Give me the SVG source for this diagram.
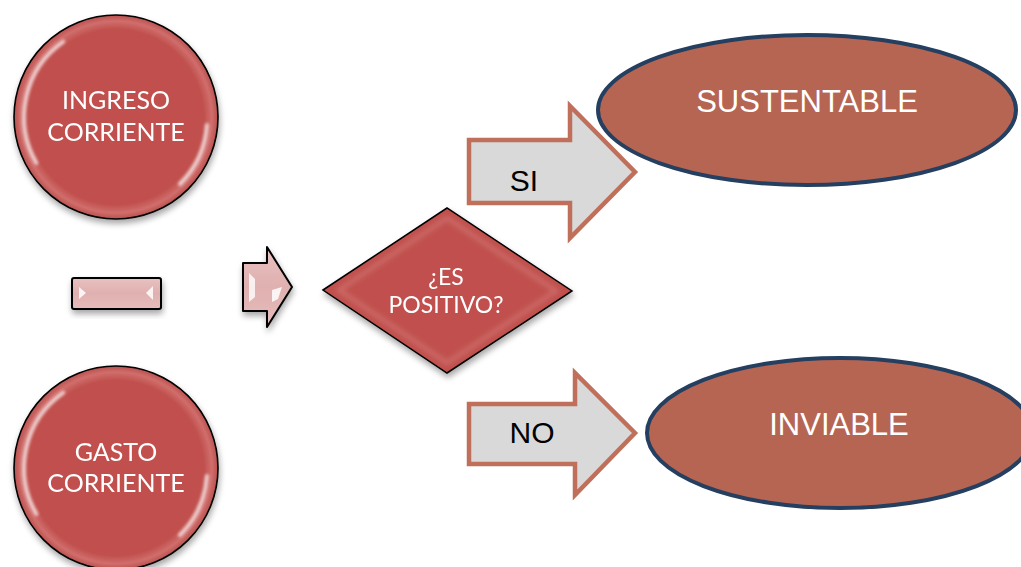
<svg xmlns="http://www.w3.org/2000/svg" width="1021" height="567" viewBox="0 0 1021 567">
  <style>
    .lbl { font-family: "Lato", "Open Sans", sans-serif; fill: #ffffff; text-anchor: middle; }
    .big { font-family: "Liberation Sans", Arial, sans-serif; text-anchor: middle; }
    .edge { fill: #d9d9d9; stroke: #c0705a; stroke-width: 4.5; stroke-linejoin: miter; }
    .end { fill: #b66553; stroke: #243f60; stroke-width: 4; }
    .gloss { fill: none; stroke: #ffffff; stroke-width: 4; stroke-linecap: round; opacity: 0.7; filter: url(#soft); }
  </style>
  <defs>
    <filter id="shadow" x="-20%" y="-20%" width="140%" height="150%">
      <feGaussianBlur in="SourceAlpha" stdDeviation="3"/>
      <feOffset dx="1" dy="4" result="b"/>
      <feComponentTransfer><feFuncA type="linear" slope="0.35"/></feComponentTransfer>
      <feMerge><feMergeNode/><feMergeNode in="SourceGraphic"/></feMerge>
    </filter>
    <filter id="soft" x="-20%" y="-20%" width="140%" height="140%">
      <feGaussianBlur stdDeviation="1.5"/>
    </filter>
    <filter id="softer" x="-20%" y="-20%" width="140%" height="140%">
      <feGaussianBlur stdDeviation="2.5"/>
    </filter>
    <radialGradient id="ball" cx="50%" cy="50%" r="50%">
      <stop offset="0" stop-color="#c0504d"/>
      <stop offset="0.86" stop-color="#c0504d"/>
      <stop offset="0.94" stop-color="#d06e6c"/>
      <stop offset="1" stop-color="#b9504e"/>
    </radialGradient>
    <linearGradient id="pink" x1="0" y1="0" x2="0" y2="1">
      <stop offset="0" stop-color="#e9c2c1"/>
      <stop offset="0.5" stop-color="#dfb0af"/>
      <stop offset="1" stop-color="#e6bdbc"/>
    </linearGradient>
  </defs>

  <!-- result ellipses -->
  <g id="sustentable">
    <ellipse class="end" cx="807" cy="110" rx="209" ry="75"/>
    <text class="big" x="807" y="112" font-size="31" fill="#ffffff">SUSTENTABLE</text>
  </g>
  <g id="inviable">
    <ellipse class="end" cx="840" cy="433" rx="193" ry="75"/>
    <text class="big" x="839" y="435" font-size="31" fill="#ffffff">INVIABLE</text>
  </g>

  <!-- input circles -->
  <g id="ingreso" filter="url(#shadow)">
    <circle cx="116" cy="117" r="102" fill="url(#ball)" stroke="#000000" stroke-width="1.6"/>
    <path class="gloss" d="M 36.3 163 A 92 92 0 0 1 63.2 41.6"/>
    <path class="gloss" d="M 207 125 A 92 92 0 0 1 180 184"/>
    <text class="lbl" x="116" y="109" font-size="25">INGRESO</text>
    <text class="lbl" x="116" y="141" font-size="25">CORRIENTE</text>
  </g>
  <g id="gasto" filter="url(#shadow)">
    <circle cx="116" cy="468" r="102" fill="url(#ball)" stroke="#000000" stroke-width="1.6"/>
    <path class="gloss" d="M 36.3 514 A 92 92 0 0 1 63.2 392.6"/>
    <path class="gloss" d="M 207 476 A 92 92 0 0 1 180 535"/>
    <text class="lbl" x="116" y="461" font-size="25">GASTO</text>
    <text class="lbl" x="116" y="492" font-size="25">CORRIENTE</text>
  </g>

  <!-- minus sign -->
  <g id="minus" filter="url(#shadow)">
    <rect x="72" y="278" width="89" height="31" rx="2" fill="url(#pink)" stroke="#000000" stroke-width="2"/>
    <polygon points="79,287 86,293 79,299" fill="#ffffff" opacity="0.85"/>
    <polygon points="153,286 146,293 153,300" fill="#ffffff" opacity="0.85"/>
  </g>

  <!-- equals arrow -->
  <g id="implies" filter="url(#shadow)">
    <polygon points="243,263 267,263 267,247 292,287 267,327 267,311 243,311" fill="url(#pink)" stroke="#000000" stroke-width="2" stroke-linejoin="round"/>
    <polygon points="249,273 255,279 255,297 249,302" fill="#ffffff" opacity="0.8"/>
    <polygon points="272,290 282,287 278,299 272,302" fill="#ffffff" opacity="0.85"/>
  </g>

  <!-- decision -->
  <g id="decision" filter="url(#shadow)">
    <polygon points="323,290 447,208 572,291 447,373" fill="#c0504d" stroke="#000000" stroke-width="1.5"/>
    <polygon points="339,290 447,218 556,291 447,363" fill="none" stroke="#d98785" stroke-width="5" opacity="0.45" filter="url(#softer)"/>
    <text class="lbl" x="446" y="285" font-size="23">¿ES</text>
    <text class="lbl" x="446" y="313" font-size="23">POSITIVO?</text>
  </g>

  <!-- branch connectors -->
  <g id="connectors">
    <g id="si">
      <polygon class="edge" points="469,140 570,140 570,106 635,172 570,238 570,203 469,203"/>
      <text class="big" x="524" y="191" font-size="30" fill="#000000">SI</text>
    </g>
    <g id="no">
      <polygon class="edge" points="469,404 575,404 575,373 635,433 575,495 575,464 469,464"/>
      <text class="big" x="532" y="443" font-size="30" fill="#000000">NO</text>
    </g>
  </g>
</svg>
